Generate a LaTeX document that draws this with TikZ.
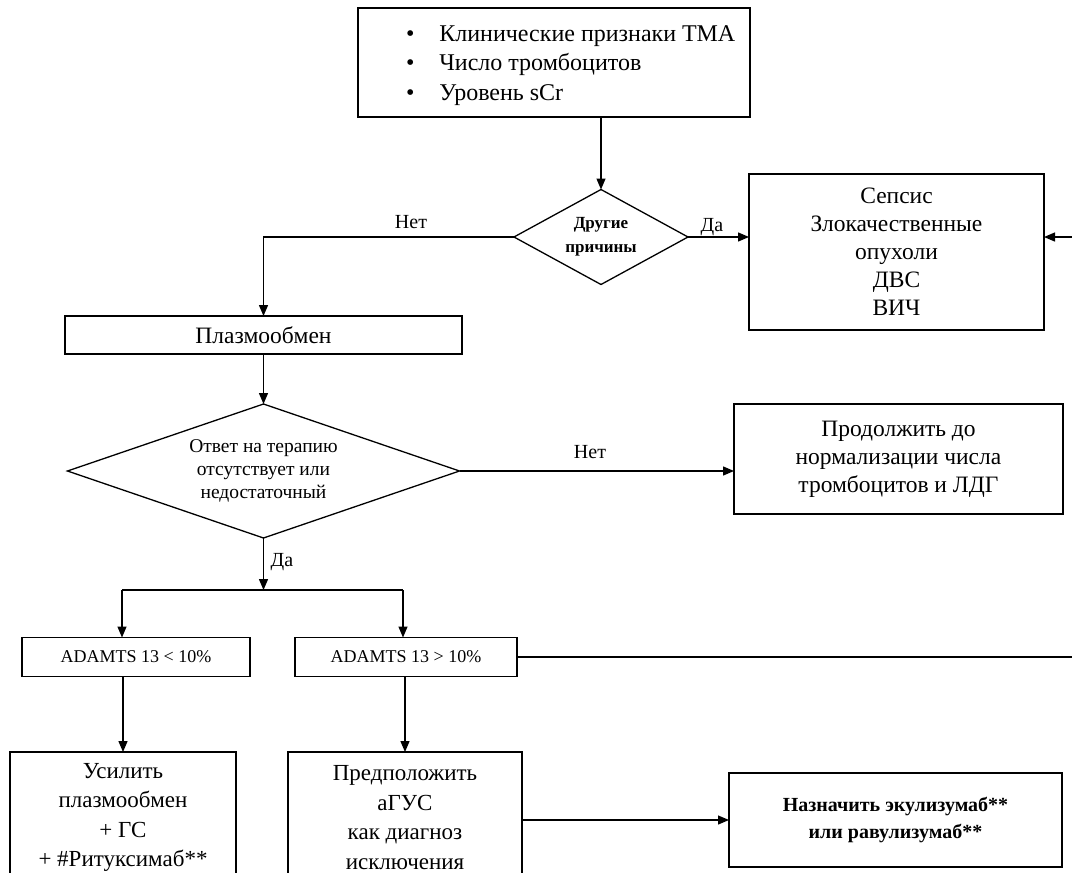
\documentclass[tikz,border=0pt]{standalone}
\usepackage{fontspec}
\setmainfont{Liberation Serif}
\usetikzlibrary{shapes.geometric,arrows.meta}
\begin{document}
\begin{tikzpicture}[x=1pt,y=-1pt,
  every node/.style={inner sep=0pt, outer sep=0pt, align=center},
  box/.style={draw=black, line width=1.3pt, rectangle},
  dia/.style={draw=black, line width=1.3pt, diamond},
  big/.style={font=\fontsize{23.5}{28}\selectfont},
  lbl/.style={font=\fontsize{20}{22}\selectfont},
  conn/.style={line width=1.3pt, -{Triangle[length=11pt,width=9pt]}},
  plain/.style={line width=1.3pt}]
\useasboundingbox (0,0) rectangle (1072,873);
\clip (0,0) rectangle (1072,873);

% top
\node[box, minimum width=392, minimum height=109] (top) at (554,62.5) {};
\node[font=\fontsize{24}{29.5}\selectfont, anchor=west, align=left] (toptext) at (406,65)
  {\begin{tabular}{@{}l@{\hspace{25pt}}l@{}}•&Клинические признаки ТМА\\ •&Число тромбоцитов\\ •&Уровень sCr\end{tabular}};

% decision 1
\node[dia, minimum width=174, minimum height=95, shape aspect=1.8,
      font=\bfseries\fontsize{17}{24}\selectfont] (d1) at (601,237) {Другие\\причины};
\node[box, big, minimum width=295, minimum height=156] (seps) at (896.5,252)
  {Сепсис\\Злокачественные\\опухоли\\ДВС\\ВИЧ};
\node[lbl] (no1) at (411,222) {Нет};
\node[lbl] (yes1) at (712,227) {Да};
\coordinate (rin) at (1072,237);

\draw[conn] (d1.north |- top.south) -- (d1.north);
\draw[conn] (d1.east) -- (d1.east -| seps.west);
\draw[conn] (rin) -- (rin -| seps.east);

% plasma
\node[box, big, minimum width=397, minimum height=38] (plasma) at (263.5,335) {Плазмообмен};
\draw[conn] (d1.west) -| (plasma.north);

% decision 2
\node[dia, minimum width=392, minimum height=134, shape aspect=2.9,
      font=\fontsize{19.5}{23}\selectfont] (d2) at (263.5,471)
  {Ответ на терапию\\отсутствует или\\недостаточный};
\draw[conn] (plasma.south) -- (d2.north);

\node[box, big, minimum width=329, minimum height=110] (cont) at (898.5,459)
  {Продолжить до\\нормализации числа\\тромбоцитов и ЛДГ};
\node[lbl] (no2) at (590,452) {Нет};
\draw[conn] (d2.east) -- (d2.east -| cont.west);

% branch
\node[lbl] (yes2) at (282,562) {Да};
\coordinate (br) at (263.5,590);
\coordinate (bl) at (122,590);
\coordinate (brr) at (403,590);
\draw[conn] (d2.south) -- (br);
\draw[plain] (bl) -- (brr);

\node[box, minimum width=228, minimum height=39, font=\fontsize{18}{20}\selectfont] (a1) at (136,657) {ADAMTS 13 < 10\%};
\node[box, minimum width=222, minimum height=39, font=\fontsize{18}{20}\selectfont] (a2) at (406,657) {ADAMTS 13 > 10\%};
\draw[conn] (bl) -- (bl |- a1.north);
\draw[conn] (brr) -- (brr |- a2.north);
\coordinate (rout) at (1072,657);
\draw[plain] (a2.east) -- (rout);

% bottom
\node[box, minimum width=226, minimum height=131, font=\fontsize{23}{29.5}\selectfont] (b1) at (123,817.5)
  {Усилить\\плазмообмен\\+ ГС\\+ \#Ритуксимаб**};
\node[box, minimum width=234, minimum height=131, font=\fontsize{23}{29.5}\selectfont] (b2) at (405,817.5)
  {Предположить\\аГУС\\как диагноз\\исключения};
\node[box, minimum width=333, minimum height=94, font=\bfseries\fontsize{20}{27}\selectfont] (b3) at (895.5,820)
  {Назначить экулизумаб**\\или равулизумаб**};
\draw[conn] (a1.south -| b1.north) -- (b1.north);
\draw[conn] (a2.south -| b2.north) -- (b2.north);
\draw[conn] (b2.east |- b3.west) -- (b3.west);
\end{tikzpicture}
\end{document}
